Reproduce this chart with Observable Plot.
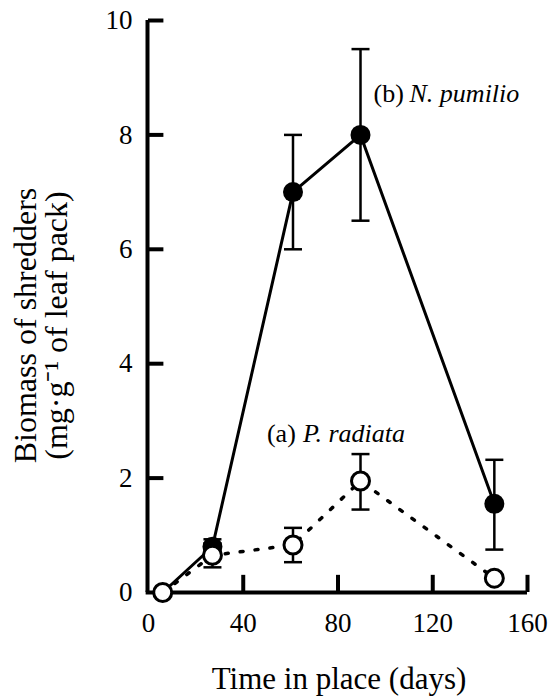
<!DOCTYPE html>
<html>
<head>
<meta charset="utf-8">
<script src="https://cdn.jsdelivr.net/npm/d3@7"></script>
<script src="https://cdn.jsdelivr.net/npm/@observablehq/plot@0.6"></script>
<style>
  html, body { margin: 0; padding: 0; background: #fff; }
  #chart svg { display: block; }
</style>
</head>
<body>
<div id="chart"></div>
<script>
// Data
const days = [6, 27, 61, 89.5, 146];
const pumilioMean = [0, 0.8, 7.0, 8.0, 1.55];
const pumilioLow  = [0, 0.62, 6.0, 6.5, 0.75];
const pumilioHigh = [0, 0.93, 8.0, 9.5, 2.32];
const radiataMean = [0, 0.65, 0.83, 1.95, 0.25];
const radiataLow  = [0, 0.44, 0.53, 1.45, 0.25];
const radiataHigh = [0, 0.86, 1.13, 2.42, 0.25];
const xTicks = [40, 80, 120, 160];
const xTickLabels = [0, 40, 80, 120, 160];
const yTicks = [2, 4, 6, 8, 10];
const yTickLabels = [0, 2, 4, 6, 8, 10];
const seriesLabels = [
  {prefix: "(b)", name: "N. pumilio", x: 95, y: 8.72},
  {prefix: "(a)", name: "P. radiata", x: 50, y: 2.78}
];

const pumilio = days.map((d, i) => ({day: d, mean: pumilioMean[i], lo: pumilioLow[i], hi: pumilioHigh[i]}));
const radiata = days.map((d, i) => ({day: d, mean: radiataMean[i], lo: radiataLow[i], hi: radiataHigh[i]}));
const pumErr = pumilio.filter(d => d.hi > d.lo);
const radErr = radiata.filter(d => d.hi > d.lo);

const capSymbol = {
  draw(context, size) {
    const w = Math.sqrt(size / Math.PI);
    context.moveTo(-w, 0);
    context.lineTo(w, 0);
  }
};

const font = "Liberation Serif";

const plot = Plot.plot({
  width: 551,
  height: 697,
  marginLeft: 148,
  marginRight: 24,
  marginTop: 20,
  marginBottom: 105,
  style: {fontFamily: font, background: "#fff", overflow: "visible"},
  x: {domain: [0, 160], axis: null},
  y: {domain: [0, 10], axis: null},
  marks: [
    // axes
    Plot.ruleY([0], {x1: -1, x2: 160, stroke: "#000", strokeWidth: 4}),
    Plot.ruleX([0], {y1: 0, y2: 10, stroke: "#000", strokeWidth: 4, dx: -1}),
    Plot.ruleX(xTicks, {y1: 0, y2: 0.3, stroke: "#000", strokeWidth: 4}),
    Plot.ruleY(yTicks, {x1: 0, x2: 6.5, stroke: "#000", strokeWidth: 4}),
    Plot.text(xTickLabels, {x: d => d, y: 0, dy: 31, text: d => String(d), fontSize: 27, fill: "#000", fontFamily: font}),
    Plot.text(yTickLabels, {x: 0, y: d => d, dx: -16, textAnchor: "end", text: d => String(d), fontSize: 27, fill: "#000", fontFamily: font}),
    // axis titles
    Plot.text(["Time in place (days)"], {frameAnchor: "bottom", textAnchor: "middle", dx: 1, dy: 96, text: d => d, fontSize: 31, fill: "#000", fontFamily: font}),
    Plot.text(["Biomass of shredders"], {frameAnchor: "left", textAnchor: "middle", dx: -123, dy: 19, rotate: -90, text: d => d, fontSize: 32, fill: "#000", fontFamily: font}),
    Plot.text(["(mg\u00b7g\u207b\u00b9 of leaf pack)"], {frameAnchor: "left", textAnchor: "middle", dx: -92, dy: 19, rotate: -90, text: d => d, fontSize: 32, fill: "#000", fontFamily: font}),
    // lines
    Plot.line(radiata, {x: "day", y: "mean", stroke: "#000", strokeWidth: 3.5, strokeDasharray: "3,12"}),
    Plot.line(pumilio, {x: "day", y: "mean", stroke: "#000", strokeWidth: 3}),
    // error bars
    Plot.ruleX(pumErr, {x: "day", y1: "lo", y2: "hi", stroke: "#000", strokeWidth: 2.5}),
    Plot.dot(pumErr, {x: "day", y: "lo", symbol: capSymbol, r: 9, stroke: "#000", strokeWidth: 2.5, fill: "none"}),
    Plot.dot(pumErr, {x: "day", y: "hi", symbol: capSymbol, r: 9, stroke: "#000", strokeWidth: 2.5, fill: "none"}),
    Plot.dot(pumilio.slice(1), {x: "day", y: "mean", r: 10, fill: "#000", stroke: "none"}),
    Plot.ruleX(radErr, {x: "day", y1: "lo", y2: "hi", stroke: "#000", strokeWidth: 2.5}),
    Plot.dot(radErr, {x: "day", y: "lo", symbol: capSymbol, r: 9, stroke: "#000", strokeWidth: 2.5, fill: "none"}),
    Plot.dot(radErr, {x: "day", y: "hi", symbol: capSymbol, r: 9, stroke: "#000", strokeWidth: 2.5, fill: "none"}),
    Plot.dot(radiata, {x: "day", y: "mean", r: 9, fill: "#fff", stroke: "#000", strokeWidth: 3}),
    // series labels
    Plot.text(seriesLabels, {x: "x", y: "y", text: "prefix", textAnchor: "start", fontSize: 26, fill: "#000", fontFamily: font}),
    Plot.text(seriesLabels, {x: "x", y: "y", text: "name", textAnchor: "start", dx: 36, fontSize: 26, fontStyle: "italic", fill: "#000", fontFamily: font})
  ]
});
document.getElementById("chart").appendChild(plot);
</script>
</body>
</html>
